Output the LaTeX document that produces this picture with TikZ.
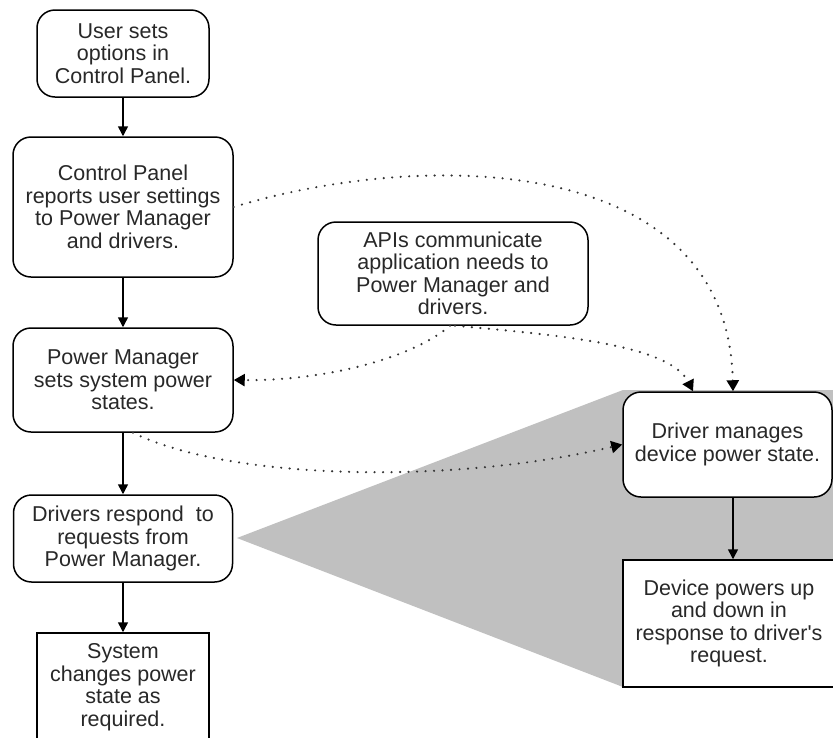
\documentclass[tikz,border=0pt]{standalone}
\usepackage{fontspec}
\setmainfont{Liberation Sans}[Ligatures=TeXOff]
\usetikzlibrary{arrows.meta}
\definecolor{wedgegray}{RGB}{192,192,192}
\definecolor{ink}{RGB}{40,40,40}

\begin{document}
\begin{tikzpicture}[x=1pt,y=-1pt,
  every node/.style={font=\fontsize{21.5}{22.5}\selectfont, text=ink, align=center, inner sep=0pt},
  roundbox/.style={draw=black, line width=1.5pt, fill=white, rounded corners=18pt},
  squarebox/.style={draw=black, line width=1.5pt, fill=white},
  flow/.style={draw=black, line width=1.5pt, -{Triangle[length=10pt,width=10pt]}},
  hint/.style={draw=black!80, line width=2.4pt, line cap=round, dash pattern=on 0pt off 8.5pt,
               -{Triangle[length=11pt,width=12pt,color=black,fill=black,line cap=butt]}},
]
\clip (0,0) rectangle (833,737);
\fill[white] (0,0) rectangle (833,737);

% grey wedge fanning out from the driver step
\fill[wedgegray] (237,538) -- (623,390) -- (840,390) -- (840,687) -- (623,687) -- cycle;

% left column: system flow
\node[roundbox, minimum width=172pt, minimum height=87pt] (user) at (123,53.5)
  {User sets\\options in\\Control Panel.};
\node[roundbox, minimum width=220pt, minimum height=140pt] (cp) at (123,207)
  {Control Panel\\reports user settings\\to Power Manager\\and drivers.};
\node[roundbox, minimum width=220pt, minimum height=104pt] (pm) at (123,380)
  {Power Manager\\sets system power\\states.};
\node[roundbox, minimum width=219pt, minimum height=87pt] (dr) at (123,538.5)
  {Drivers respond~ to\\requests from\\Power Manager.};
\node[squarebox, minimum width=172pt, minimum height=108pt] (sys) at (123,687)
  {System\\changes power\\state as\\required.};

% application side
\node[roundbox, minimum width=270pt, minimum height=103pt] (api) at (453,273.5)
  {APIs communicate\\application needs to\\Power Manager and\\drivers.};

% right column: device flow
\node[roundbox, minimum width=209pt, minimum height=105pt] (drv) at (727.5,444.5)
  {Driver manages\\device power state.};
\node[squarebox, minimum width=212pt, minimum height=127pt] (dev) at (729,623.5)
  {Device powers up\\and down in\\response to driver's\\request.};

\coordinate (col) at (733,0);

% solid flow arrows
\draw[flow] (user) -- (cp);
\draw[flow] (cp) -- (pm);
\draw[flow] (pm) -- (dr);
\draw[flow] (dr) -- (sys);
\draw[flow] (drv.south -| col) -- (dev.north -| col);

% dotted influence arrows
\draw[hint] (cp.east) .. controls (420,150) and (728,150) .. (drv.north -| col);
\draw[hint] ([xshift=-3pt]api.south) .. controls (410,360) and (320,381) .. (pm.east);
\draw[hint] ([xshift=2pt]api.south) .. controls (560,335) and (670,345) .. ([xshift=-34.5pt]drv.north);
\draw[hint] ([xshift=10pt]pm.south) .. controls (230,480) and (450,485) .. (drv.west);
\end{tikzpicture}
\end{document}
